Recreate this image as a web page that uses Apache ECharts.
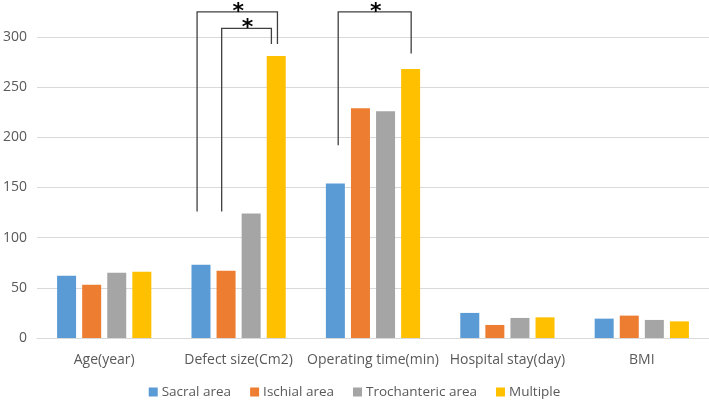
<!DOCTYPE html>
<html>
<head>
<meta charset="utf-8">
<script src="https://cdn.jsdelivr.net/npm/echarts@6/dist/echarts.min.js"></script>
<style>html,body{margin:0;padding:0;background:#fff}#c{width:709px;height:401px}</style>
</head>
<body>
<div id="c"></div>
<script>
var categories = ['Age(year)', 'Defect size(Cm2)', 'Operating time(min)', 'Hospital stay(day)', 'BMI'];
var seriesNames = ['Sacral area', 'Ischial area', 'Trochanteric area', 'Multiple'];
var sacral = [62, 73, 154, 25, 19.3];
var ischial = [53, 67, 229, 13, 22.3];
var trochanteric = [65, 124, 226, 20, 18];
var multiple = [66, 281, 268, 20.6, 16.6];
var yTicks = [0, 50, 100, 150, 200, 250, 300];
// significance brackets: [category index, left offset, right offset (fraction of category), top value, left bottom value, right bottom value]
var brackets = [
  [1, -0.309, 0.289, 325, 126, 293],
  [1, -0.126, 0.244, 308.6, 126, 293],
  [2, -0.259, 0.284, 325, 192, 283.5]
];
var colors = ['#5B9BD5', '#ED7D31', '#A5A5A5', '#FFC000'];
var font = 'Open Sans';

var chart = echarts.init(document.getElementById('c'), null, {renderer: 'canvas'});
var values = [sacral, ischial, trochanteric, multiple];
var barSeries = seriesNames.map(function (n, i) {
  return {
    name: n, type: 'bar', data: values[i], barWidth: 19, barGap: '32%',
    itemStyle: {color: colors[i]}, z: 2
  };
});
barSeries.push({
  type: 'custom', name: 'sig', data: brackets, clip: false, z: 5,
  encode: {x: 0, y: 3},
  renderItem: function (params, api) {
    var cat = api.value(0);
    var cw = api.size([1, 0])[0];
    var c = api.coord([cat, api.value(3)]);
    var xl = c[0] + api.value(1) * cw;
    var xr = c[0] + api.value(2) * cw;
    var yt = c[1];
    var ylb = api.coord([cat, api.value(4)])[1];
    var yrb = api.coord([cat, api.value(5)])[1];
    return {
      type: 'group',
      children: [
        {type: 'polyline', shape: {points: [[xl, ylb], [xl, yt], [xr, yt], [xr, yrb]]},
          style: {stroke: '#404040', lineWidth: 1.3, fill: null}},
        {type: 'text', style: {text: '*', x: (xl + xr) / 2 + 1, y: yt + 11, fontSize: 22, fontWeight: 'bold',
          fontFamily: 'DejaVu Sans', fill: '#000', textAlign: 'center', textVerticalAlign: 'bottom'}}
      ]
    };
  }
});

chart.setOption({
  animation: false,
  color: colors,
  grid: {left: 34, right: 0, top: 37, bottom: 63, containLabel: false},
  legend: {
    data: seriesNames, bottom: -3, left: 'center', itemWidth: 9, itemHeight: 9, itemGap: 19,
    icon: 'rect', textStyle: {fontFamily: font, fontSize: 13.5, color: '#595959', padding: [0, 0, 0, -1]}
  },
  xAxis: {
    type: 'category', data: categories,
    axisLine: {lineStyle: {color: '#D9D9D9', width: 1}},
    axisTick: {show: false},
    axisLabel: {interval: 0, fontFamily: font, fontSize: 14, color: '#595959', margin: 15}
  },
  yAxis: {
    type: 'value', min: yTicks[0], max: yTicks[yTicks.length - 1], interval: yTicks[1] - yTicks[0],
    axisLine: {show: false}, axisTick: {show: false},
    axisLabel: {fontFamily: font, fontSize: 14, color: '#595959', margin: 10},
    splitLine: {lineStyle: {color: '#D9D9D9', width: 1}}
  },
  series: barSeries
});
</script>
</body>
</html>
